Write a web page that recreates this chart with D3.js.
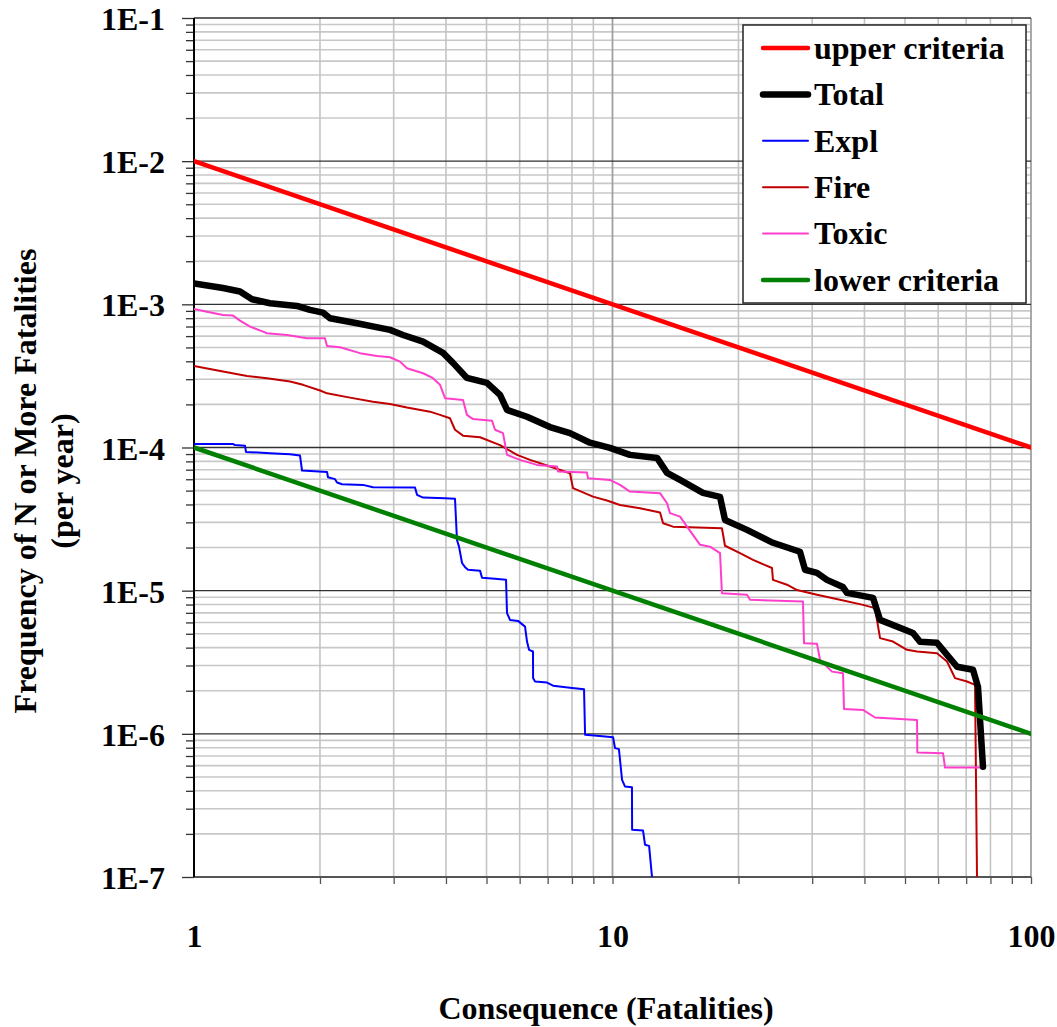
<!DOCTYPE html>
<html>
<head>
<meta charset="utf-8">
<script src="https://cdn.jsdelivr.net/npm/d3@7"></script>
<style>
  html, body { margin: 0; padding: 0; background: #fff; }
  svg { display: block; }
  text { font-family: "Liberation Serif", "Times New Roman", serif; font-weight: bold; fill: #000; }
</style>
</head>
<body>
<svg id="chart" width="1057" height="1027"></svg>
<script>
// ---- data (N fatalities, frequency per year) ----
const xTickLabels = ["1", "10", "100"];
const yTickLabels = ["1E-7", "1E-6", "1E-5", "1E-4", "1E-3", "1E-2", "1E-1"];
const upperCriteria = [[1, 1e-2], [100, 1e-4]];
const lowerCriteria = [[1, 1e-4], [100, 1e-6]];

const total = [
  [1, 1.40e-3], [1.173, 1.30e-3], [1.288, 1.23e-3], [1.376, 1.085e-3], [1.519, 1.018e-3],
  [1.762, 9.75e-4], [1.893, 9.14e-4], [2.033, 8.75e-4], [2.113, 8.0e-4], [2.452, 7.38e-4],
  [2.94, 6.63e-4], [3.159, 6.11e-4], [3.526, 5.49e-4], [3.936, 4.58e-4], [4.157, 3.90e-4],
  [4.49, 3.06e-4], [5.013, 2.83e-4], [5.386, 2.33e-4], [5.597, 1.83e-4], [6.248, 1.64e-4],
  [7.09, 1.39e-4], [7.914, 1.26e-4], [8.836, 1.08e-4], [9.86, 9.94e-5], [11.01, 8.88e-5],
  [12.78, 8.46e-5], [13.5, 6.65e-5], [14.5, 5.94e-5], [16.45, 4.82e-5], [18.07, 4.52e-5],
  [18.57, 3.12e-5], [20.96, 2.66e-5], [24.18, 2.16e-5], [28.05, 1.87e-5], [28.84, 1.40e-5],
  [30.81, 1.33e-5], [32.54, 1.19e-5], [35.54, 1.06e-5], [36.33, 9.65e-6], [41.93, 8.91e-6],
  [43.58, 6.25e-6], [52.24, 5.07e-6], [54.3, 4.39e-6], [59.63, 4.32e-6], [66.57, 2.94e-6],
  [72.69, 2.80e-6], [74.7, 2.13e-6], [76.78, 5.88e-7]
];

const expl = [
  [1, 1.06e-4], [1.239, 1.06e-4], [1.253, 1.04e-4], [1.324, 1.03e-4], [1.331, 9.32e-5],
  [1.519, 9.12e-5], [1.696, 8.98e-5], [1.792, 8.78e-5], [1.812, 6.90e-5], [2.079, 6.75e-5],
  [2.09, 6.20e-5], [2.173, 6.01e-5], [2.197, 5.69e-5], [2.258, 5.54e-5], [2.534, 5.48e-5],
  [2.678, 5.28e-5], [3.374, 5.25e-5], [3.411, 4.67e-5], [3.526, 4.47e-5], [3.98, 4.42e-5],
  [4.204, 4.38e-5], [4.25, 2.26e-5], [4.298, 2.03e-5], [4.37, 1.56e-5], [4.443, 1.46e-5],
  [4.517, 1.40e-5], [4.825, 1.38e-5], [4.878, 1.23e-5], [5.239, 1.21e-5], [5.567, 1.19e-5],
  [5.597, 6.97e-6], [5.69, 6.25e-6], [5.946, 6.15e-6], [6.18, 5.61e-6], [6.248, 4.41e-6],
  [6.318, 3.86e-6], [6.457, 3.76e-6], [6.46, 2.45e-6], [6.53, 2.32e-6], [6.975, 2.28e-6],
  [7.21, 2.17e-6], [7.914, 2.10e-6], [8.55, 2.05e-6], [8.6, 9.84e-7], [9.18, 9.68e-7],
  [10.03, 9.48e-7], [10.14, 7.95e-7], [10.36, 7.82e-7], [10.54, 4.77e-7], [10.71, 4.29e-7],
  [11.13, 4.24e-7], [11.14, 2.14e-7], [11.83, 2.11e-7], [11.96, 1.68e-7], [12.23, 1.65e-7],
  [12.43, 1.0e-7]
];

const fire = [
  [1, 3.71e-4], [1.173, 3.39e-4], [1.339, 3.16e-4], [1.494, 3.05e-4], [1.696, 2.89e-4],
  [1.822, 2.74e-4], [2.001, 2.50e-4], [2.079, 2.39e-4], [2.359, 2.23e-4], [2.678, 2.09e-4],
  [2.94, 2.01e-4], [3.228, 1.90e-4], [3.664, 1.78e-4], [3.871, 1.69e-4], [4.09, 1.60e-4],
  [4.204, 1.33e-4], [4.393, 1.21e-4], [4.825, 1.18e-4], [5.386, 1.04e-4], [5.914, 8.88e-5],
  [6.353, 8.19e-5], [7.09, 7.36e-5], [7.914, 6.61e-5], [8.047, 5.20e-5], [8.98, 4.54e-5],
  [9.70, 4.26e-5], [10.42, 3.97e-5], [11.63, 3.77e-5], [12.99, 3.51e-5], [13.21, 2.96e-5],
  [13.95, 2.80e-5], [18.26, 2.73e-5], [18.57, 2.06e-5], [20.17, 1.83e-5], [21.67, 1.64e-5],
  [24.05, 1.44e-5], [24.18, 1.19e-5], [26.12, 1.10e-5], [27.6, 1.01e-5], [30.81, 9.35e-6],
  [34.96, 8.63e-6], [39.68, 7.96e-6], [42.39, 7.55e-6], [43.58, 4.66e-6], [46.8, 4.41e-6],
  [50.55, 3.86e-6], [53.42, 3.76e-6], [59.63, 3.66e-6], [63.0, 3.20e-6], [65.84, 2.45e-6],
  [70.32, 2.32e-6], [73.5, 2.20e-6], [74.3, 1.0e-7]
];

const toxic = [
  [1, 9.29e-4], [1.074, 8.89e-4], [1.173, 8.43e-4], [1.239, 8.34e-4], [1.288, 7.69e-4],
  [1.361, 6.99e-4], [1.462, 6.45e-4], [1.494, 6.28e-4], [1.668, 6.11e-4], [1.862, 5.80e-4],
  [2.056, 5.80e-4], [2.079, 5.12e-4], [2.233, 5.02e-4], [2.493, 4.56e-4], [2.737, 4.36e-4],
  [2.94, 4.27e-4], [3.106, 3.98e-4], [3.228, 3.58e-4], [3.526, 3.30e-4], [3.725, 3.05e-4],
  [3.871, 2.74e-4], [3.98, 2.21e-4], [4.393, 2.15e-4], [4.49, 1.69e-4], [4.642, 1.58e-4],
  [5.154, 1.54e-4], [5.239, 1.33e-4], [5.475, 1.26e-4], [5.597, 8.88e-5], [6.011, 8.19e-5],
  [6.601, 7.56e-5], [7.37, 7.36e-5], [7.41, 6.79e-5], [8.69, 6.68e-5], [8.74, 6.10e-5],
  [9.86, 5.94e-5], [10.42, 5.48e-5], [11.01, 4.92e-5], [12.99, 4.80e-5], [13.5, 4.08e-5],
  [13.72, 3.48e-5], [14.5, 3.29e-5], [15.07, 2.80e-5], [16.19, 2.09e-5], [17.1, 2.03e-5],
  [18.07, 1.83e-5], [18.26, 9.61e-6], [20.96, 9.35e-6], [21.31, 8.63e-6], [28.52, 8.39e-6],
  [28.68, 4.30e-6], [30.81, 4.25e-6], [31.32, 3.29e-6], [33.45, 2.72e-6], [35.55, 2.65e-6],
  [35.74, 1.49e-6], [39.68, 1.47e-6], [42.39, 1.30e-6], [53.42, 1.25e-6], [53.5, 7.40e-7],
  [61.63, 7.33e-7], [62.31, 5.82e-7], [76.78, 5.82e-7]
];

// ---- layout ----
const svg = d3.select("#chart");
const x = d3.scaleLog().domain([1, 100]).range([194, 1031]);
const y = d3.scaleLog().domain([1e-7, 1e-1]).range([877, 18]);

// minor values
const minorX = [];
for (let d = 1; d < 100; d *= 10) for (let k = 2; k <= 9; k++) minorX.push(d * k);
const minorY = [];
for (let e = -7; e < -1; e++) for (let k = 2; k <= 9; k++) minorY.push(k * Math.pow(10, e));
const majorY = d3.range(-7, 0).map(e => Math.pow(10, e));

const grid = svg.append("g");
// horizontal minor grid
grid.selectAll(".hmin").data(minorY).enter().append("line")
  .attr("x1", x(1)).attr("x2", x(100))
  .attr("y1", d => y(d)).attr("y2", d => y(d))
  .attr("stroke", "#c8c8c8").attr("stroke-width", 1.6);
// vertical minor grid
grid.selectAll(".vmin").data(minorX).enter().append("line")
  .attr("x1", d => x(d)).attr("x2", d => x(d))
  .attr("y1", y(1e-1)).attr("y2", y(1e-7))
  .attr("stroke", "#c4c4c4").attr("stroke-width", 1.6);
// vertical 10 & 100
grid.selectAll(".vmaj").data([10, 100]).enter().append("line")
  .attr("x1", d => x(d)).attr("x2", d => x(d))
  .attr("y1", y(1e-1)).attr("y2", y(1e-7))
  .attr("stroke", "#a0a0a0").attr("stroke-width", 1.8);
// horizontal major grid
grid.selectAll(".hmaj").data(majorY).enter().append("line")
  .attr("x1", x(1)).attr("x2", x(100))
  .attr("y1", d => y(d)).attr("y2", d => y(d))
  .attr("stroke", "#303030").attr("stroke-width", 1.4);

// axes
const yAxis = d3.axisLeft(y).tickValues(minorY).tickSize(8).tickFormat("");
const gy = svg.append("g").attr("transform", `translate(${x(1)},0)`).call(yAxis);
gy.select(".domain").remove();
gy.selectAll(".tick line").attr("stroke", "#333").attr("stroke-width", 1.3);
const yAxisMajor = d3.axisLeft(y).tickValues(majorY).tickSize(12)
  .tickFormat((d, i) => yTickLabels[i]);
const gy2 = svg.append("g").attr("transform", `translate(${x(1)},0)`).call(yAxisMajor);
gy2.select(".domain").remove();
gy2.selectAll(".tick line").attr("stroke", "#333").attr("stroke-width", 1.3);
gy2.selectAll(".tick text").attr("x", -29).attr("dy", "0.36em")
  .style("font-family", "'Liberation Serif', serif").style("font-weight", "bold")
  .style("font-size", "32px").attr("fill", "#000");

const xAxis = d3.axisBottom(x).tickValues(minorX.concat([10, 100])).tickSize(7).tickFormat("");
const gx = svg.append("g").attr("transform", `translate(0,${y(1e-7)})`).call(xAxis);
gx.select(".domain").remove();
gx.selectAll(".tick line").attr("stroke", "#555").attr("stroke-width", 1.3);
const xAxisLab = d3.axisBottom(x).tickValues([1, 10, 100]).tickSize(0)
  .tickFormat((d, i) => xTickLabels[i]);
const gx2 = svg.append("g").attr("transform", `translate(0,${y(1e-7)})`).call(xAxisLab);
gx2.select(".domain").remove();
gx2.selectAll(".tick text").attr("y", 70).attr("dy", 0)
  .style("font-family", "'Liberation Serif', serif").style("font-weight", "bold")
  .style("font-size", "32px").attr("fill", "#000");

// axis lines
svg.append("line").attr("x1", x(1)).attr("x2", x(100)).attr("y1", y(1e-7)).attr("y2", y(1e-7))
  .attr("stroke", "#555").attr("stroke-width", 2);
svg.append("line").attr("x1", x(1)).attr("x2", x(1)).attr("y1", y(1e-1)).attr("y2", y(1e-7))
  .attr("stroke", "#000").attr("stroke-width", 2);

// clip
svg.append("clipPath").attr("id", "plotclip").append("rect")
  .attr("x", x(1)).attr("y", y(1e-1)).attr("width", x(100) - x(1)).attr("height", y(1e-7) - y(1e-1));

const line = d3.line().x(d => x(d[0])).y(d => y(d[1]));
const series = [
  { name: "upper criteria", data: upperCriteria, color: "#ff0000", width: 4.5 },
  { name: "lower criteria", data: lowerCriteria, color: "#008000", width: 4.5 },
  { name: "Expl", data: expl, color: "#0000ff", width: 2 },
  { name: "Fire", data: fire, color: "#c00000", width: 2 },
  { name: "Toxic", data: toxic, color: "#ff3fcc", width: 2 },
  { name: "Total", data: total, color: "#000000", width: 6.5 }
];
const plot = svg.append("g").attr("clip-path", "url(#plotclip)");
// draw order: criteria, components, total
["Expl", "Fire", "Toxic", "Total", "upper criteria", "lower criteria"].forEach(n => {
  const s = series.find(t => t.name === n);
  plot.append("path").datum(s.data).attr("d", line)
    .attr("fill", "none").attr("stroke", s.color).attr("stroke-width", s.width)
    .attr("stroke-linejoin", "round").attr("stroke-linecap", "round");
});

// axis titles
svg.append("text").attr("x", 606).attr("y", 1019).attr("text-anchor", "middle")
  .style("font-size", "32px").text("Consequence (Fatalities)");
const yt = svg.append("text").attr("transform", "translate(0,481) rotate(-90)")
  .attr("text-anchor", "middle").style("font-size", "32px");
yt.append("tspan").attr("x", 0).attr("y", 36).text("Frequency of N or More Fatalities");
yt.append("tspan").attr("x", 0).attr("y", 73).text("(per year)");

// legend
const legendItems = [
  { name: "upper criteria", color: "#ff0000", width: 4.5 },
  { name: "Total", color: "#000000", width: 6.5 },
  { name: "Expl", color: "#0000ff", width: 2 },
  { name: "Fire", color: "#c00000", width: 2 },
  { name: "Toxic", color: "#ff3fcc", width: 2 },
  { name: "lower criteria", color: "#008000", width: 4.5 }
];
const lg = svg.append("g");
lg.append("rect").attr("x", 743).attr("y", 25).attr("width", 283).attr("height", 278)
  .attr("fill", "#fff").attr("stroke", "#222").attr("stroke-width", 1.5);
const ly = d3.scalePoint().domain(legendItems.map(d => d.name)).range([48, 280]);
legendItems.forEach(d => {
  lg.append("line").attr("x1", 763).attr("x2", 808).attr("y1", ly(d.name)).attr("y2", ly(d.name))
    .attr("stroke", d.color).attr("stroke-width", d.width).attr("stroke-linecap", "round");
  lg.append("text").attr("x", 814).attr("y", ly(d.name)).attr("dy", "0.34em")
    .style("font-size", "32px").text(d.name);
});
</script>
</body>
</html>
